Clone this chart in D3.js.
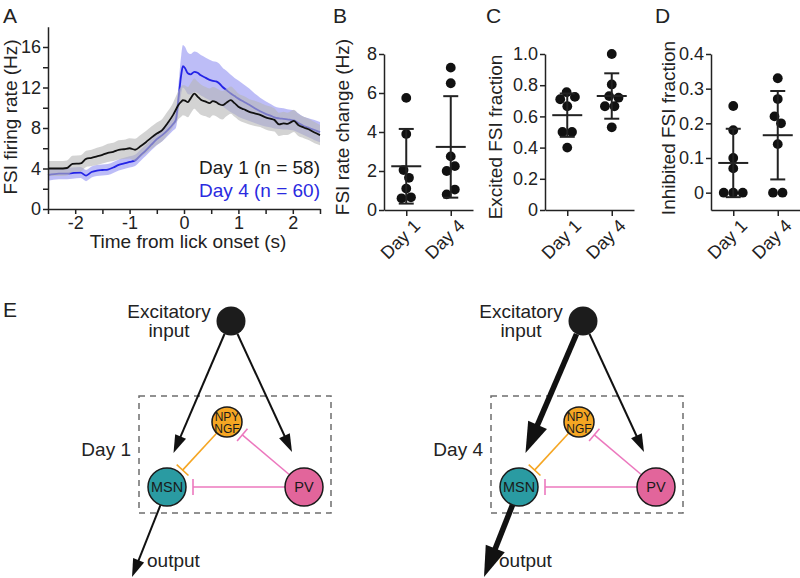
<!DOCTYPE html>
<html>
<head>
<meta charset="utf-8">
<script src="https://cdn.jsdelivr.net/npm/d3@7"></script>
<style>
  body { margin: 0; background: #fff; }
  svg { display: block; font-family: "Liberation Sans", Arial, sans-serif; }
  .axis path, .axis line { stroke: #222; stroke-width: 1.5; }
  .axis text { fill: #222; font-size: 18px; font-family: "Liberation Sans", Arial, sans-serif; }
</style>
</head>
<body>
<div id="fig"></div>
<script>
// ---- Panel A: FSI firing rate around lick onset, mean and SEM (Hz)
const timeSec = [-2.5, -2.3, -2.15, -2.05, -1.9, -1.8, -1.7, -1.6, -1.5, -1.4, -1.3, -1.2, -1.1, -1.0, -0.9,
  -0.8, -0.7, -0.6, -0.5, -0.4, -0.3, -0.2, -0.15, -0.1, -0.05, -0.02, 0.02, 0.07, 0.12, 0.19,
  0.25, 0.31, 0.4, 0.47, 0.53, 0.59, 0.65, 0.71, 0.78, 0.86, 0.93, 1.0, 1.1, 1.2, 1.3,
  1.4, 1.5, 1.6, 1.66, 1.75, 1.83, 1.9, 1.96, 2.02, 2.1, 2.2, 2.3, 2.4, 2.5];
const day1Rate = [4.0, 4.0, 4.05, 4.45, 4.5, 4.95, 5.05, 5.2, 5.35, 5.55, 5.65, 5.85, 5.9, 6.0, 5.85,
  6.2, 6.6, 7.05, 7.45, 7.8, 8.5, 9.3, 9.8, 10.3, 10.6, 10.75, 10.7, 10.55, 10.9, 11.4,
  11.1, 10.8, 10.6, 10.45, 10.65, 10.55, 10.35, 10.25, 10.5, 10.75, 10.45, 10.1, 9.85, 9.6, 9.45,
  9.3, 9.05, 8.9, 8.8, 8.35, 8.45, 8.4, 8.55, 8.7, 8.3, 8.05, 7.85, 7.55, 7.3];
const day1Sem = [0.75, 0.75, 0.75, 0.8, 0.8, 0.8, 0.8, 0.85, 0.85, 0.9, 0.9, 0.95, 0.95, 1.0, 1.1,
  1.1, 1.1, 1.1, 1.1, 1.1, 1.15, 1.2, 1.3, 1.4, 1.5, 1.5, 1.5, 1.5, 1.5, 1.5,
  1.5, 1.5, 1.45, 1.45, 1.4, 1.4, 1.4, 1.4, 1.35, 1.35, 1.35, 1.3, 1.3, 1.25, 1.25,
  1.2, 1.2, 1.2, 1.15, 1.15, 1.15, 1.1, 1.1, 1.1, 1.1, 1.05, 1.05, 1.05, 1.0];
const day4Rate = [3.35, 3.5, 3.5, 3.55, 3.6, 3.3, 3.65, 3.8, 3.85, 3.9, 4.1, 4.35, 4.5, 4.65, 4.8,
  5.3, 5.8, 6.35, 6.9, 7.3, 7.8, 8.4, 8.8, 11.0, 13.3, 14.1, 13.9, 13.4, 13.3, 13.55,
  13.45, 13.2, 12.95, 12.75, 12.65, 12.6, 12.4, 12.05, 11.75, 11.4, 11.15, 10.9, 10.6, 10.3, 9.95,
  9.65, 9.4, 9.2, 9.05, 8.95, 8.9, 8.85, 8.8, 8.75, 8.5, 8.2, 8.0, 7.8, 7.6];
const day4Sem = [0.55, 0.55, 0.55, 0.55, 0.55, 0.55, 0.55, 0.55, 0.55, 0.55, 0.55, 0.55, 0.55, 0.55, 0.55,
  0.55, 0.55, 0.55, 0.6, 0.6, 0.6, 0.65, 0.8, 1.4, 1.9, 2.1, 2.1, 2.05, 2.0, 2.0,
  2.0, 2.0, 2.0, 2.0, 1.95, 1.95, 1.95, 1.9, 1.9, 1.85, 1.8, 1.8, 1.7, 1.6, 1.45,
  1.35, 1.25, 1.15, 1.1, 1.05, 1.05, 1.0, 1.0, 1.0, 0.95, 0.9, 0.95, 1.0, 1.0];
const legendLabels = ["Day 1 (n = 58)", "Day 4 (n = 60)"];

// ---- Panels B-D: one value per animal
const dayLabels = ["Day 1", "Day 4"];
const rateChangeDay1 = [5.75, 3.9, 2.05, 1.65, 1.1, 0.65, 0.6];
const rateChangeDay4 = [7.3, 6.5, 2.75, 2.25, 2.0, 1.05, 0.8];
const excitedDay1 = [0.755, 0.725, 0.71, 0.665, 0.5, 0.5, 0.4];
const excitedDay4 = [1.0, 0.805, 0.73, 0.72, 0.665, 0.665, 0.53];
const inhibitedDay1 = [0.25, 0.18, 0.1, 0.07, 0, 0, 0];
const inhibitedDay4 = [0.33, 0.27, 0.22, 0.2, 0.14, 0, 0];

// ---- Panel E: circuit schematic
const inputLabel = ["Excitatory", "input"];
const outputLabel = "output";
const cellLabels = ["MSN", "NPY/NGF", "PV"];
const inputToMsnWeight = [1, 2.8];   // Day 1, Day 4
const msnOutputWeight = [1, 2.8];

const W = 800, H = 578;
const ink = "#222";

const svg = d3.select("#fig").append("svg")
    .attr("width", W)
    .attr("height", H);

function panelLetter(txt, x, y) {
  svg.append("text").attr("x", x).attr("y", y)
    .attr("font-size", 21).attr("fill", ink).text(txt);
}

function yTitle(txt, x, y) {
  svg.append("text")
    .attr("transform", `translate(${x},${y}) rotate(-90)`)
    .attr("text-anchor", "middle")
    .attr("font-size", 19).attr("fill", ink)
    .text(txt);
}

// =============== Panel A ===============
const x = d3.scaleLinear().domain([-2.5, 2.5]).range([48, 320]);
const y = d3.scaleLinear().domain([0, 18]).range([209, 26.75]);

const rows = timeSec.map((t, i) => ({
  t, m1: day1Rate[i], s1: day1Sem[i], m4: day4Rate[i], s4: day4Sem[i]
}));

const band = (m, s) => d3.area()
    .x(d => x(d.t))
    .y0(d => y(d[m] - d[s]))
    .y1(d => y(d[m] + d[s]))
    .curve(d3.curveMonotoneX);
const meanLine = m => d3.line()
    .x(d => x(d.t))
    .y(d => y(d[m]))
    .curve(d3.curveMonotoneX);

const gA = svg.append("g");
gA.append("path").datum(rows).attr("d", band("m4", "s4"))
  .attr("fill", "#b1b1f6").attr("opacity", 0.85);
gA.append("path").datum(rows).attr("d", meanLine("m4"))
  .attr("fill", "none").attr("stroke", "#2424e6").attr("stroke-width", 1.8);
gA.append("path").datum(rows).attr("d", band("m1", "s1"))
  .attr("fill", "#b6b6b6").attr("opacity", 0.6);
gA.append("path").datum(rows).attr("d", meanLine("m1"))
  .attr("fill", "none").attr("stroke", "#111").attr("stroke-width", 1.8);

svg.append("g").attr("class", "axis")
  .attr("transform", `translate(0,${y(0)})`)
  .call(d3.axisBottom(x)
    .tickValues(d3.range(-2.5, 2.51, 0.5))
    .tickFormat(d => Number.isInteger(d) ? String(d) : "")
    .tickSize(5).tickPadding(2).tickSizeOuter(0));

svg.append("g").attr("class", "axis")
  .attr("transform", `translate(${x(-2.5)},0)`)
  .call(d3.axisLeft(y)
    .tickValues(d3.range(0, 17, 2))
    .tickFormat(d => d % 4 === 0 ? String(d) : "")
    .tickSize(5).tickPadding(2).tickSizeOuter(0));

svg.append("text").attr("x", 188).attr("y", 248)
  .attr("text-anchor", "middle").attr("font-size", 19).attr("fill", ink)
  .text("Time from lick onset (s)");
yTitle("FSI firing rate (Hz)", 17, 117);

const legendColors = ["#1a1a1a", "#2a2ae0"];
legendLabels.forEach((lab, i) => {
  svg.append("text").attr("x", 320).attr("y", 174 + i * 23)
    .attr("text-anchor", "end").attr("font-size", 19)
    .attr("fill", legendColors[i]).text(lab);
});
panelLetter("A", 3, 23);

// =============== Panels B-D ===============
function swarm(values, ys, cx, r) {
  const nodes = values.map((v, i) => ({ v, fy: ys(v), y: ys(v), x: cx + (i % 2 ? 0.3 : -0.3) * (i + 1) }));
  const sim = d3.forceSimulation(nodes)
    .force("x", d3.forceX(cx).strength(0.08))
    .force("collide", d3.forceCollide(r * 0.97))
    .stop();
  for (let k = 0; k < 300; k++) sim.tick();
  return nodes;
}

const dotPanels = [
  { letter: "B", lx: 333, x0: 384, title: "FSI rate change (Hz)", tx: 349, ty: 127,
    groups: [rateChangeDay1, rateChangeDay4], domain: [0, 8], ticks: [0, 2, 4, 6, 8], fmt: d => String(d) },
  { letter: "C", lx: 486, x0: 545, title: "Excited FSI fraction", tx: 502, ty: 137,
    groups: [excitedDay1, excitedDay4], domain: [0, 1], ticks: [0, 0.2, 0.4, 0.6, 0.8, 1.0],
    fmt: d => d === 0 ? "0" : d.toFixed(1) },
  { letter: "D", lx: 655, x0: 711, title: "Inhibited FSI fraction", tx: 675, ty: 128,
    groups: [inhibitedDay1, inhibitedDay4], domain: [-0.05, 0.4], ticks: [0, 0.1, 0.2, 0.3, 0.4],
    fmt: d => d === 0 ? "0" : d.toFixed(1) }
];

dotPanels.forEach(p => {
  const xs = d3.scalePoint().domain(dayLabels).range([p.x0, p.x0 + 89]).padding(0.5);
  const ys = d3.scaleLinear().domain(p.domain).range([210, 54]);
  const g = svg.append("g");

  g.append("g").attr("class", "axis")
    .attr("transform", `translate(${p.x0},0)`)
    .call(d3.axisLeft(ys).tickValues(p.ticks).tickFormat(p.fmt)
      .tickSize(5).tickPadding(2).tickSizeOuter(0));

  g.append("g").attr("class", "axis")
    .attr("transform", "translate(0,210)")
    .call(d3.axisBottom(xs).tickFormat("").tickSize(6).tickSizeOuter(0));

  dayLabels.forEach(day => {
    g.append("text")
      .attr("transform", `translate(${xs(day) + 15},227) rotate(-45)`)
      .attr("text-anchor", "end").attr("font-size", 18).attr("fill", ink)
      .text(day);
  });

  p.groups.forEach((vals, gi) => {
    const cx = xs(dayLabels[gi]);
    const mean = d3.mean(vals), sd = d3.deviation(vals);
    const dots = swarm(vals, ys, cx, 4.9);
    g.selectAll(null).data(dots).join("circle")
      .attr("cx", d => d.x).attr("cy", d => d.fy).attr("r", 4.9)
      .attr("fill", "#111");
    const eg = g.append("g").attr("stroke", ink).attr("stroke-width", 2);
    eg.append("line").attr("x1", cx).attr("x2", cx)
      .attr("y1", ys(mean - sd)).attr("y2", ys(mean + sd));
    eg.append("line").attr("x1", cx - 15).attr("x2", cx + 15)
      .attr("y1", ys(mean)).attr("y2", ys(mean));
    [mean - sd, mean + sd].forEach(v => {
      if (v < p.domain[0]) return;
      eg.append("line").attr("x1", cx - 7.5).attr("x2", cx + 7.5)
        .attr("y1", ys(v)).attr("y2", ys(v));
    });
  });

  yTitle(p.title, p.tx, p.ty);
  panelLetter(p.letter, p.lx, 23);
});

// =============== Panel E ===============
panelLetter("E", 3, 317);

const cellFill = { "MSN": "#2a9ba2", "NPY/NGF": "#f5a623", "PV": "#e2659b" };
const lay = {
  input: [231, 321, 14.5],
  "NPY/NGF": [227, 422, 15],
  "MSN": [167, 487, 19],
  "PV": [304, 487, 19],
  box: [139, 396, 331, 513],
  toMsn: [[224.5, 334], [173.5, 453]],
  toPv: [[237.5, 334], [292, 452]],
  out: [[160.5, 505], [132, 577]]
};

function arrow(g, a, b, w) {
  const dx = b[0] - a[0], dy = b[1] - a[1], len = Math.hypot(dx, dy);
  const ux = dx / len, uy = dy / len;
  const hl = 11 + 3.5 * w, hw = 7 + 2.4 * w;
  const bx = b[0] - ux * hl, by = b[1] - uy * hl;
  g.append("line").attr("x1", a[0]).attr("y1", a[1])
    .attr("x2", bx + ux * 2).attr("y2", by + uy * 2)
    .attr("stroke", "#111").attr("stroke-width", w);
  g.append("path")
    .attr("d", `M${b[0]},${b[1]}L${bx - uy * hw / 2},${by + ux * hw / 2}L${bx + uy * hw / 2},${by - ux * hw / 2}Z`)
    .attr("fill", "#111");
}

function inhibit(g, from, to, color, gap) {
  const dx = to[0] - from[0], dy = to[1] - from[1], len = Math.hypot(dx, dy);
  const ux = dx / len, uy = dy / len;
  const ax = from[0] + ux * from[2], ay = from[1] + uy * from[2];
  const ex = to[0] - ux * (to[2] + gap), ey = to[1] - uy * (to[2] + gap);
  g.append("line").attr("x1", ax).attr("y1", ay).attr("x2", ex).attr("y2", ey)
    .attr("stroke", color).attr("stroke-width", 1.6);
  g.append("line")
    .attr("x1", ex - uy * 8).attr("y1", ey + ux * 8)
    .attr("x2", ex + uy * 8).attr("y2", ey - ux * 8)
    .attr("stroke", color).attr("stroke-width", 1.6);
}

dayLabels.forEach((day, i) => {
  const g = svg.append("g").attr("transform", `translate(${i * 352},0)`);
  const [bx0, by0, bx1, by1] = lay.box;
  g.append("rect").attr("x", bx0).attr("y", by0)
    .attr("width", bx1 - bx0).attr("height", by1 - by0)
    .attr("fill", "none").attr("stroke", "#6e6e6e")
    .attr("stroke-width", 1.5).attr("stroke-dasharray", "6,5");

  g.append("text").attr("x", 131).attr("y", 456)
    .attr("text-anchor", "end").attr("font-size", 19).attr("fill", ink).text(day);

  inhibit(g, lay["NPY/NGF"], lay["MSN"], "#f5a623", 4);
  inhibit(g, lay["PV"], lay["NPY/NGF"], "#ec78be", 5);
  inhibit(g, lay["PV"], lay["MSN"], "#ec78be", 7);

  arrow(g, lay.toMsn[0], lay.toMsn[1], 2 * inputToMsnWeight[i]);
  arrow(g, lay.toPv[0], lay.toPv[1], 2);
  arrow(g, lay.out[0], lay.out[1], 2 * msnOutputWeight[i]);

  g.append("circle").attr("cx", lay.input[0]).attr("cy", lay.input[1]).attr("r", lay.input[2])
    .attr("fill", "#1c1c1c");
  inputLabel.forEach((t, k) => {
    g.append("text").attr("x", 169).attr("y", 318 + k * 19)
      .attr("text-anchor", "middle").attr("font-size", 19).attr("fill", ink).text(t);
  });
  g.append("text").attr("x", 147).attr("y", 567)
    .attr("font-size", 19).attr("fill", ink).text(outputLabel);

  cellLabels.forEach(c => {
    const [cx, cy, r] = lay[c];
    g.append("circle").attr("cx", cx).attr("cy", cy).attr("r", r)
      .attr("fill", cellFill[c]).attr("stroke", "#1a1a1a").attr("stroke-width", 1.5);
    const parts = c.split("/");
    const fs = parts.length > 1 ? 12 : 14.5;
    parts.forEach((pt, k) => {
      g.append("text").attr("x", cx)
        .attr("y", cy + (parts.length > 1 ? (k === 0 ? -1.5 : 11) : 5.2))
        .attr("text-anchor", "middle").attr("font-size", fs).attr("fill", "#1a1a1a")
        .text(pt);
    });
  });
});
</script>
</body>
</html>
